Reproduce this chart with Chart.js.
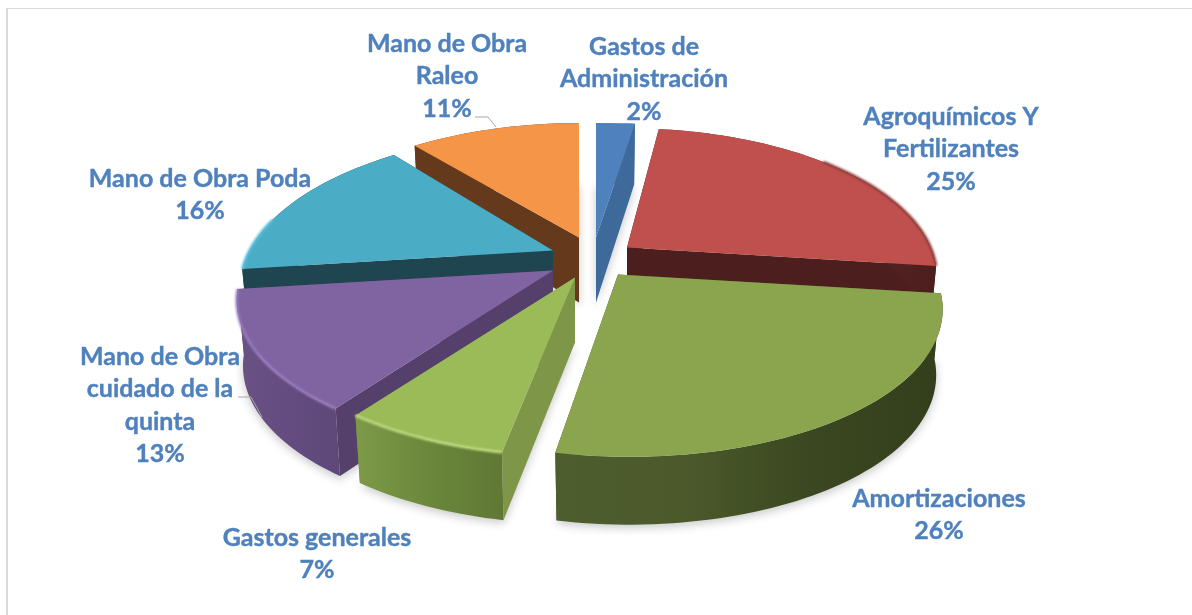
<!DOCTYPE html>
<html>
<head>
<meta charset="utf-8">
<title>Estructura de costos</title>
<script src="https://cdn.jsdelivr.net/npm/chart.js@4"></script>
<style>
    html, body { margin: 0; padding: 0; background: #fff; overflow: hidden; }
    #frame { position: absolute; left: 6px; top: 8px; width: 1186px; height: 607px; box-sizing: border-box;
             border-left: 2px solid #d9d9d9; border-top: 1px solid #d9d9d9; }
    #pie { position: absolute; left: 0; top: 0; }
</style>
</head>
<body>
<div id="frame"></div>
<canvas id="pie" width="1192" height="615"></canvas>
<script>
const categories = [
    ["Gastos de", "Administración"],
    ["Agroquímicos Y", "Fertilizantes"],
    ["Amortizaciones"],
    ["Gastos generales"],
    ["Mano de Obra", "cuidado de la", "quinta"],
    ["Mano de Obra Poda"],
    ["Mano de Obra", "Raleo"]
];
const values = [2, 25, 26, 7, 13, 16, 11];

const topColors = ["#4f81bd", "#c0504d", "#8aa54e", "#9bbb59", "#8064a2", "#4bacc6", "#f59547"];
const wallColors = ["#3d6a9b", "#4d1e1e", "#4b592b", "#7e9648", "#553f6b", "#1f4650", "#65391b"];
const rimStops = [
    ["#3d6a9b", "#3d6a9b"],
    ["#6e2a28", "#4d1e1e"],
    ["#4e5d2e", "#4b592b", "#3a4720", "#333f1c"],
    ["#7d9a48", "#6b873b", "#5f7835"],
    ["#6a5285", "#644c80", "#5d4878"],
    ["#1f4650", "#1f4650"],
    ["#65391b", "#65391b"]
];
const rimHighlight = [null, "#8c3d3a", null, "#c3dc84", "#9a7fc0", "#62c4e0", null];
// part of the rim that carries the highlight
const highlightFrom = [0, 0.45, 0, 0, 0, 0, 0];
const highlightTo = [1, 1, 1, 1, 1, 0.35, 1];

// exploded position of each slice, relative to the pie centre
const shiftX = [0, 31, 22, -21, -43, -43, -17];
const shiftY = [-70, -60, -33, -30, -37, -57, -70];
const widthScale = [1.2, 0.98, 1.02, 1.01, 1, 0.98, 0.96];
const heightScale = [0.96, 1, 1.02, 1, 1, 1, 0.96];
const skewX = [0, 0, 9, 0, 0, -13, 0];
// back to front
const drawOrder = [0, 6, 1, 5, 4, 3, 2];

const labelX = [644, 951, 939, 317, 160, 200, 447];
const labelY = [47, 117, 499, 538, 357, 179, 44];
const labelLine = 32.4;
const leaders = [
    [[475, 117], [488, 117], [496, 127]],
    [[238, 397], [251, 397], [262, 417]]
];

const view = { ratioX: 1.008, ratioY: 0.465, persp: 0.2, depth: 65 };

function project(arc, i, theta, r, h) {
    const X = r * Math.sin(theta);
    const Y = -r * Math.cos(theta);
    const s = 1 / (1 - view.persp * Y);
    const shrink = 1 - 0.02 * h;
    return [
        arc.x + shiftX[i] + (arc.outerRadius * view.ratioX * widthScale[i] * X + skewX[i] * Y) * s * shrink,
        arc.y + shiftY[i] + arc.outerRadius * view.ratioY * heightScale[i] * Y * s * shrink + h * view.depth * (1 + 0.1 * Y)
    ];
}

function rimPoints(arc, i, h) {
    const a0 = arc.startAngle + Math.PI / 2;
    const a1 = arc.endAngle + Math.PI / 2;
    const steps = Math.max(4, Math.round((a1 - a0) * 40));
    const pts = [];
    for (let n = 0; n <= steps; n++) {
        pts.push(project(arc, i, a0 + (a1 - a0) * n / steps, 1, h));
    }
    return pts;
}

function tracePoly(ctx, pts) {
    ctx.beginPath();
    pts.forEach((p, n) => n ? ctx.lineTo(p[0], p[1]) : ctx.moveTo(p[0], p[1]));
    ctx.closePath();
}

function drawSlice(ctx, arc, i) {
    const top = rimPoints(arc, i, 0);
    const bottom = rimPoints(arc, i, 1);
    const tipTop = project(arc, i, 0, 0, 0);
    const tipBottom = project(arc, i, 0, 0, 1);

    // radial walls
    ctx.fillStyle = wallColors[i];
    tracePoly(ctx, [tipTop, top[0], bottom[0], tipBottom]);
    ctx.fill();
    tracePoly(ctx, [tipTop, top[top.length - 1], bottom[bottom.length - 1], tipBottom]);
    ctx.fill();

    // outer wall, shaded along x
    const xs = top.concat(bottom).map(p => p[0]);
    const minX = Math.min(...xs);
    const maxX = Math.max(...xs);
    const grad = ctx.createLinearGradient(minX, 0, maxX, 0);
    rimStops[i].forEach((c, n) => grad.addColorStop(n / (rimStops[i].length - 1), c));
    ctx.fillStyle = grad;
    tracePoly(ctx, top.concat(bottom.slice().reverse()));
    ctx.fill();

    // top face
    ctx.fillStyle = arc.options.backgroundColor;
    tracePoly(ctx, [tipTop].concat(top));
    ctx.fill();

    if (rimHighlight[i]) {
        const last = top.length - 1;
        const edge = top.slice(Math.round(highlightFrom[i] * last), Math.round(highlightTo[i] * last) + 1);
        ctx.save();
        ctx.filter = "blur(1px)";
        ctx.strokeStyle = rimHighlight[i];
        ctx.lineWidth = 2.5;
        ctx.beginPath();
        edge.forEach((p, n) => n ? ctx.lineTo(p[0], p[1]) : ctx.moveTo(p[0], p[1]));
        ctx.stroke();
        ctx.restore();
    }
}

const pie3d = {
    id: "pie3d",
    beforeDatasetsDraw(chart) {
        const ctx = chart.ctx;
        const arcs = chart.getDatasetMeta(0).data;

        // soft shadow under the whole pie
        ctx.save();
        ctx.shadowColor = "rgba(0,0,0,0.22)";
        ctx.shadowBlur = 10;
        ctx.shadowOffsetY = 3;
        ctx.fillStyle = "#e6e6e6";
        drawOrder.forEach(i => {
            tracePoly(ctx, [project(arcs[i], i, 0, 0, 1)].concat(rimPoints(arcs[i], i, 1)));
            ctx.fill();
        });
        ctx.restore();

        drawOrder.forEach(i => drawSlice(ctx, arcs[i], i));

        ctx.strokeStyle = "#a6a6a6";
        ctx.lineWidth = 1;
        leaders.forEach(line => {
            ctx.beginPath();
            line.forEach((p, n) => n ? ctx.lineTo(p[0], p[1]) : ctx.moveTo(p[0], p[1]));
            ctx.stroke();
        });

        ctx.fillStyle = "#4f81bd";
        ctx.strokeStyle = "#4f81bd";
        ctx.lineWidth = 0.4;
        ctx.font = "bold 25px Lato";
        ctx.textAlign = "center";
        ctx.textBaseline = "middle";
        categories.forEach((lines, i) => {
            lines.concat([values[i] + "%"]).forEach((txt, n) => {
                ctx.fillText(txt, labelX[i], labelY[i] + n * labelLine);
                ctx.strokeText(txt, labelX[i], labelY[i] + n * labelLine);
            });
        });
        return false;
    }
};

new Chart(document.getElementById("pie"), {
    type: "pie",
    data: {
        labels: categories.map(c => c.join(" ")),
        datasets: [{
            data: values,
            backgroundColor: topColors,
            borderWidth: 0
        }]
    },
    options: {
        responsive: false,
        animation: false,
        plugins: {
            legend: { display: false },
            tooltip: { enabled: false }
        }
    },
    plugins: [pie3d]
});
</script>
</body>
</html>
